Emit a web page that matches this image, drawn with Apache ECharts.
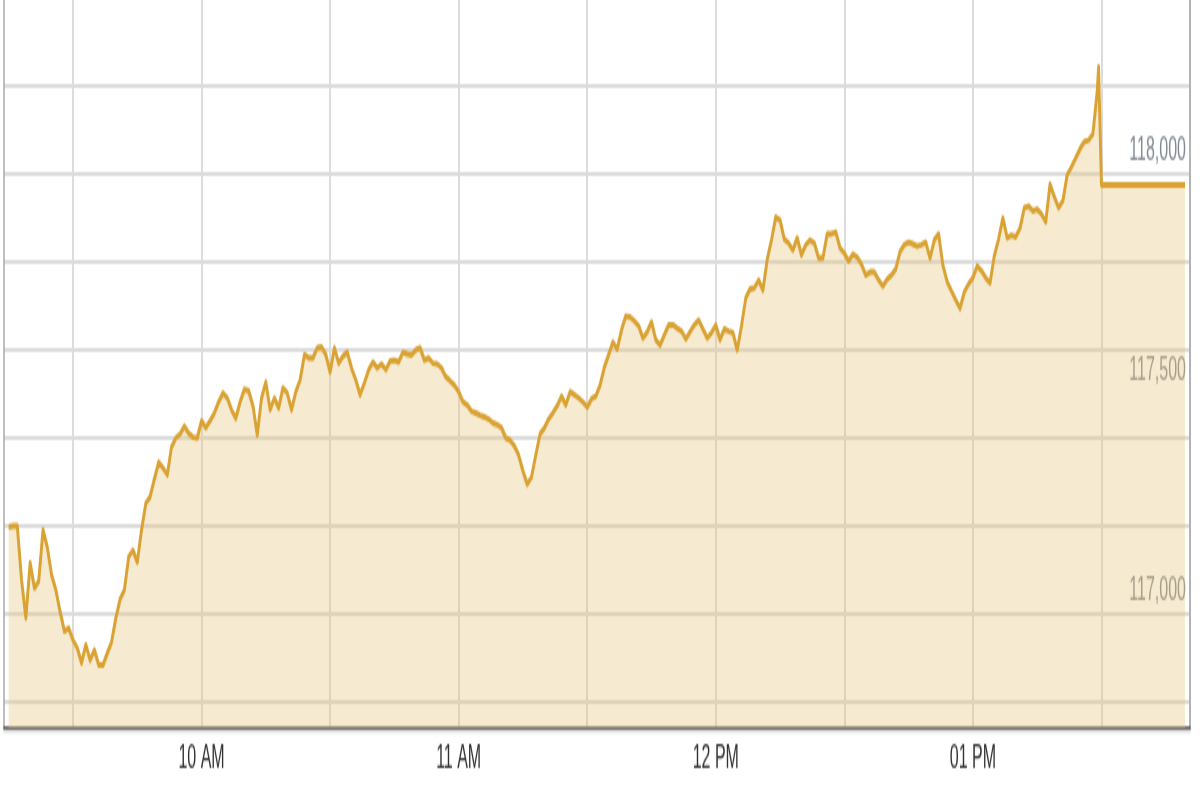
<!DOCTYPE html>
<html>
<head>
<meta charset="utf-8">
<script src="https://cdn.jsdelivr.net/npm/echarts@6/dist/echarts.min.js"></script>
<style>
  html, body { margin: 0; padding: 0; background: #ffffff; overflow: hidden; }
  #wrap { width: 1200px; height: 800px; overflow: hidden; }
  #main { width: 1200px; height: 400px; transform: scaleY(2); transform-origin: 0 0; }
</style>
</head>
<body>
<div id="wrap"><div id="main"></div></div>
<script>
// Session times (HH:MM or HH:MM:SS)
const times = [
  "09:15","09:16","09:17","09:18","09:19","09:20","09:21","09:22","09:23","09:24",
  "09:25","09:26","09:27","09:28","09:29","09:30","09:31","09:32","09:33","09:34",
  "09:35","09:36","09:37","09:38","09:39","09:40","09:41","09:42","09:43","09:44",
  "09:45","09:46","09:47","09:48","09:49","09:50","09:51","09:52","09:53","09:54",
  "09:55","09:56","09:57","09:58","09:59","10:00","10:01","10:02","10:03","10:04",
  "10:05","10:06","10:07","10:08","10:09","10:10","10:11","10:12","10:13","10:14",
  "10:15","10:16","10:17","10:18","10:19","10:20","10:21","10:22","10:23","10:24",
  "10:25","10:26","10:27","10:28","10:29","10:30","10:31","10:32","10:33","10:34",
  "10:35","10:36","10:37","10:38","10:39","10:40","10:41","10:42","10:43","10:44",
  "10:45","10:46","10:47","10:48","10:49","10:50","10:51","10:52","10:53","10:54",
  "10:55","10:56","10:57","10:58","10:59","11:00","11:01","11:02","11:03","11:04",
  "11:05","11:06","11:07","11:08","11:09","11:10","11:11","11:12","11:13","11:14",
  "11:15","11:16","11:17","11:18","11:19","11:20","11:21","11:22","11:23","11:24",
  "11:25","11:26","11:27","11:28","11:29","11:30","11:31","11:32","11:33","11:34",
  "11:35","11:36","11:37","11:38","11:39","11:40","11:41","11:42","11:43","11:44",
  "11:45","11:46","11:47","11:48","11:49","11:50","11:51","11:52","11:53","11:54",
  "11:55","11:56","11:57","11:58","11:59","12:00","12:01","12:02","12:03","12:04",
  "12:05","12:06","12:07","12:08","12:09","12:10","12:11","12:12","12:13","12:14",
  "12:15","12:16","12:17","12:18","12:19","12:20","12:21","12:22","12:23","12:24",
  "12:25","12:26","12:27","12:28","12:29","12:30","12:31","12:32","12:33","12:34",
  "12:35","12:36","12:37","12:38","12:39","12:40","12:41","12:42","12:43","12:44",
  "12:45","12:46","12:47","12:48","12:49","12:50","12:51","12:52","12:53","12:54",
  "12:55","12:56","12:57","12:58","12:59","13:00","13:01","13:02","13:03","13:04",
  "13:05","13:06","13:07","13:08","13:09","13:10","13:11","13:12","13:13","13:14",
  "13:15","13:16","13:17","13:18","13:19","13:20","13:21","13:22","13:23","13:24",
  "13:25","13:26","13:27","13:28","13:29","13:29:20","13:30","13:49:30"
];

// Index level at each time
const values = [
  117198,117200,117200,117077,116991,117116,117059,117075,117191,117152,
  117089,117055,117005,116961,116968,116941,116923,116889,116930,116895,
  116918,116884,116884,116911,116936,116991,117034,117055,117130,117145,
  117118,117191,117252,117266,117307,117345,117332,117316,117380,117400,
  117409,117427,117411,117402,117400,117439,117423,117439,117457,117482,
  117502,117491,117464,117445,117482,117511,117507,117473,117407,117491,
  117527,117464,117491,117468,117514,117502,117464,117505,117532,117589,
  117582,117582,117605,117607,117589,117550,117605,117570,117586,117595,
  117559,117532,117498,117525,117555,117573,117559,117568,117555,117575,
  117577,117573,117595,117591,117589,117600,117605,117577,117582,117570,
  117568,117559,117539,117530,117520,117505,117482,117475,117461,117457,
  117452,117448,117443,117434,117430,117423,117400,117395,117382,117361,
  117325,117295,117311,117361,117409,117423,117443,117457,117473,117495,
  117475,117505,117498,117491,117482,117470,117489,117495,117520,117561,
  117589,117618,117602,117645,117677,117675,117666,117655,117627,117641,
  117664,117623,117611,117634,117657,117657,117650,117643,117625,117641,
  117657,117668,117648,117627,117639,117657,117623,117648,117643,117639,
  117600,117655,117718,117739,117741,117759,117736,117805,117850,117902,
  117895,117852,117843,117827,117855,117816,117839,117850,117843,117809,
  117809,117864,117864,117868,117832,117820,117802,117818,117811,117795,
  117770,117777,117777,117759,117745,117761,117770,117784,117823,117839,
  117845,117841,117836,117839,117845,117809,117850,117864,117793,117755,
  117734,117714,117695,117732,117750,117764,117791,117780,117764,117752,
  117814,117852,117900,117855,117861,117857,117877,117923,117927,117916,
  117920,117909,117891,117977,117948,117923,117939,117998,118016,118036,
  118057,118073,118077,118091,118186,118243,117975,117975
];

// Axis settings (tick positions and labels)
const xGridTimes = ["09:30","10:00","10:30","11:00","11:30","12:00","12:30","13:00","13:30"];
const xLabelTimes = ["10:00","11:00","12:00","13:00"];
const xLabelTexts = ["10 AM","11 AM","12 PM","01 PM"];
const yGridValues = [116800,117000,117200,117400,117600,117800,118000,118200];
const yLabelValues = [117000,117500,118000];
const xRange = ["09:13:54","13:50:40"];
const yRange = [116741,118395.5];

function toMin(t) {
  const p = t.split(":").map(Number);
  return p[0] * 60 + p[1] + (p[2] || 0) / 60;
}

const seriesData = times.map((t, i) => [toMin(t), values[i]]);
const xGrid = xGridTimes.map(toMin);
const xLabels = xLabelTimes.map(toMin);
const labelMap = {};
xLabels.forEach((m, i) => { labelMap[Math.round(m)] = xLabelTexts[i]; });

const font = "'Liberation Sans', Arial, sans-serif";
const chart = echarts.init(document.getElementById('main'), null, { renderer: 'canvas' });

chart.setOption({
  animation: false,
  backgroundColor: '#ffffff',
  grid: { left: 4, right: 10, top: 0, bottom: 36, containLabel: false },
  xAxis: {
    type: 'value',
    min: toMin(xRange[0]),
    max: toMin(xRange[1]),
    axisLine: { show: true, onZero: false, lineStyle: { color: '#555555', width: 1.5, shadowColor: 'rgba(0,0,0,0.25)', shadowBlur: 2, shadowOffsetY: 1 } },
    axisTick: { show: false, customValues: xGrid },
    splitLine: { show: true, lineStyle: { color: '#dcdcdc', width: 2 } },
    axisLabel: {
      customValues: xLabels,
      formatter: v => labelMap[Math.round(v)] || '',
      color: '#333333',
      fontSize: 16,
      fontFamily: font,
      margin: 8
    }
  },
  yAxis: [
    {
      type: 'value',
      position: 'right',
      min: yRange[0],
      max: yRange[1],
      axisLine: { show: true, lineStyle: { color: '#b3b3b3', width: 2 } },
      axisTick: { show: false, customValues: yGridValues },
      splitLine: { show: true, lineStyle: { color: '#dcdcdc', width: 2 } },
      axisLabel: {
        customValues: yLabelValues,
        inside: true,
        margin: 4,
        formatter: v => Number(v).toLocaleString('en-US'),
        color: '#848a94',
        fontSize: 16,
        fontFamily: font,
        verticalAlign: 'bottom',
        padding: [0, 0, 3, 0]
      }
    },
    {
      type: 'value',
      position: 'left',
      min: yRange[0],
      max: yRange[1],
      axisLine: { show: true, lineStyle: { color: '#a8a8a8', width: 1.5 } },
      axisTick: { show: false },
      splitLine: { show: false },
      axisLabel: { show: false }
    }
  ],
  series: [{
    type: 'line',
    data: seriesData,
    yAxisIndex: 0,
    showSymbol: false,
    symbol: 'none',
    smooth: false,
    lineStyle: { color: '#d9a232', width: 2.9, join: 'round' },
    areaStyle: { color: 'rgba(230,196,122,0.5)', origin: 'start' },
    z: 3
  }]
});
</script>
</body>
</html>
